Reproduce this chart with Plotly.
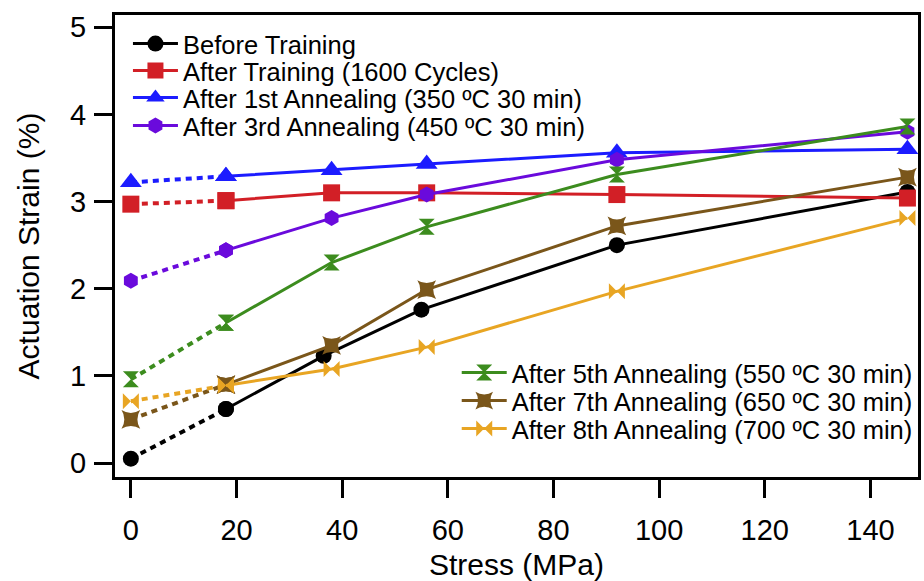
import plotly.graph_objects as go

stress = [0, 18, 38, 56, 92, 147]
stress_before = [0, 18, 36.5, 55, 92, 147]

before_training = [0.05, 0.62, 1.23, 1.76, 2.50, 3.11]
after_training = [2.97, 3.01, 3.10, 3.10, 3.08, 3.04]
after_ann1 = [3.22, 3.29, 3.36, 3.43, 3.56, 3.60]
after_ann3 = [2.09, 2.44, 2.81, 3.08, 3.48, 3.80]
after_ann5 = [0.96, 1.61, 2.30, 2.71, 3.31, 3.86]
after_ann7 = [0.50, 0.90, 1.35, 1.99, 2.72, 3.28]
after_ann8 = [0.71, 0.89, 1.08, 1.33, 1.97, 2.81]

names = [
    "Before Training",
    "After Training (1600 Cycles)",
    "After 1st Annealing (350 ºC 30 min)",
    "After 3rd Annealing (450 ºC 30 min)",
    "After 5th Annealing (550 ºC 30 min)",
    "After 7th Annealing (650 ºC 30 min)",
    "After 8th Annealing (700 ºC 30 min)",
]
series = [before_training, after_training, after_ann1, after_ann3,
          after_ann5, after_ann7, after_ann8]
xs = [stress_before] + [stress] * 6
colors = ["#000000", "#d21f26", "#1c1cff", "#6a0adc", "#3c8c1e", "#7a561a", "#e8a523"]
symbols = ["circle", "square", "triangle-up", "hexagon", "hourglass", "star-square", "bowtie"]
sizes = [16, 17, 19, 16, 16, 17, 16]

W, H = 924, 581
ml, mr, mt, mb = 115, 3, 15, 104
pw, ph = W - ml - mr, H - mt - mb
leg_text_x = [183] * 4 + [513] * 3
leg_y = [44, 71, 98, 126, 373, 401, 429]
leg_font = [25.5] * 7

fig = go.Figure()
layout_legends = {}
for i, (name, ys, x, c, s, sz) in enumerate(zip(names, series, xs, colors, symbols, sizes)):
    lg = "legend" if i == 0 else f"legend{i+1}"
    fig.add_trace(go.Scatter(
        x=x[:2], y=ys[:2], mode="lines+markers", showlegend=False,
        line=dict(color=c, width=4, dash="6px,5px"),
        marker=dict(symbol=s, size=sz, color=c),
        hoverinfo="skip",
    ))
    fig.add_trace(go.Scatter(
        x=x[1:], y=ys[1:], mode="lines+markers", name=name, legend=lg,
        line=dict(color=c, width=3),
        marker=dict(symbol=s, size=sz, color=c),
    ))
    origin_px = leg_text_x[i] - 40 - 15
    layout_legends[lg] = dict(
        x=(origin_px - ml) / pw, xanchor="left",
        y=(H - mb - leg_y[i]) / ph, yanchor="middle",
        bgcolor="rgba(0,0,0,0)", borderwidth=0,
        font=dict(family="Liberation Sans, Arial, sans-serif", size=leg_font[i], color="#000000"),
        itemwidth=45,
    )

fig.update_layout(
    width=W, height=H,
    margin=dict(l=ml, r=mr, t=mt, b=mb, pad=0),
    paper_bgcolor="white", plot_bgcolor="white",
    font=dict(family="Liberation Sans, Arial, sans-serif", color="#000000"),
    **layout_legends,
)
fig.update_xaxes(
    range=[-3, 149], tickvals=[0, 20, 40, 60, 80, 100, 120, 140],
    showgrid=False, zeroline=False,
    showline=True, linecolor="black", linewidth=3, mirror=True,
    ticks="outside", ticklen=18, tickwidth=3, tickcolor="black",
    tickfont=dict(size=29), ticklabelstandoff=7,
    title=dict(text="Stress (MPa)", font=dict(size=30), standoff=10),
)
fig.update_yaxes(
    range=[-0.16, 5.14], tickvals=[0, 1, 2, 3, 4, 5],
    showgrid=False, zeroline=False,
    showline=True, linecolor="black", linewidth=3, mirror=True,
    ticks="outside", ticklen=18, tickwidth=3, tickcolor="black",
    tickfont=dict(size=29), ticklabelstandoff=2,
    title=dict(text="Actuation Strain (%)", font=dict(size=30), standoff=22),
)

fig.write_html("out.html")
